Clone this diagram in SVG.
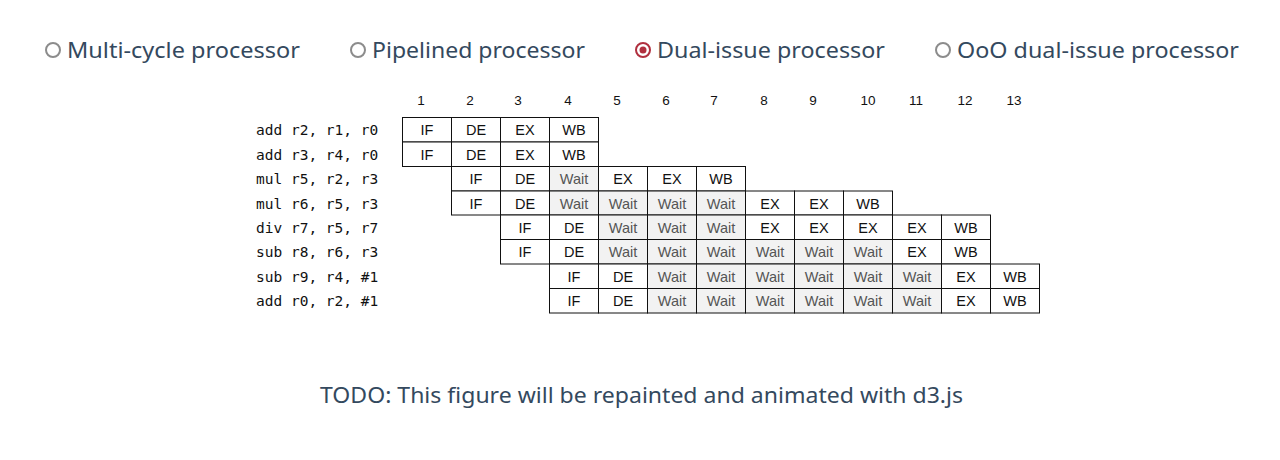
<svg xmlns="http://www.w3.org/2000/svg" width="1280" height="460" viewBox="0 0 1280 460">
<style>
.hd{font-family:"Noto Sans","Open Sans",sans-serif;font-size:22px;fill:#34495e}
.rb{fill:#fff;stroke:#8c8c8c;stroke-width:2}
.rs{fill:#fff;stroke:#b0303f;stroke-width:2}
.num{font-family:"Liberation Sans",Arial,sans-serif;font-size:13.5px;fill:#111;text-anchor:middle}
.lbl{font-family:"DejaVu Sans Mono",monospace;font-size:14.5px;fill:#111}
.c{fill:#fff;stroke:#111;stroke-width:1}
.w{fill:#f2f2f2;stroke:#111;stroke-width:1}
.t{font-family:"Liberation Sans",Arial,sans-serif;font-size:14.5px;fill:#111;text-anchor:middle}
.tw{font-family:"Liberation Sans",Arial,sans-serif;font-size:14.5px;fill:#555;text-anchor:middle}
</style>
<rect width="1280" height="460" fill="#fff"/>
<g id="radios">
<circle class="rb" cx="53" cy="50" r="7"/>
<text class="hd" x="67" y="58" textLength="233" lengthAdjust="spacingAndGlyphs">Multi-cycle processor</text>
<circle class="rb" cx="358" cy="50" r="7"/>
<text class="hd" x="372" y="58" textLength="213" lengthAdjust="spacingAndGlyphs">Pipelined processor</text>
<circle class="rs" cx="643" cy="50" r="7"/>
<circle cx="643" cy="50" r="3.5" fill="#b0303f"/>
<text class="hd" x="657" y="58" textLength="228" lengthAdjust="spacingAndGlyphs">Dual-issue processor</text>
<circle class="rb" cx="943" cy="50" r="7"/>
<text class="hd" x="957" y="58" textLength="282" lengthAdjust="spacingAndGlyphs">OoO dual-issue processor</text>
</g>
<g id="cycle-numbers">
<text class="num" x="421" y="105">1</text>
<text class="num" x="470" y="105">2</text>
<text class="num" x="518" y="105">3</text>
<text class="num" x="568" y="105">4</text>
<text class="num" x="617" y="105">5</text>
<text class="num" x="666" y="105">6</text>
<text class="num" x="714" y="105">7</text>
<text class="num" x="764" y="105">8</text>
<text class="num" x="813" y="105">9</text>
<text class="num" x="868" y="105">10</text>
<text class="num" x="916" y="105">11</text>
<text class="num" x="965" y="105">12</text>
<text class="num" x="1014" y="105">13</text>
</g>
<g id="instructions">
<text class="lbl" x="256" y="135">add r2, r1, r0</text>
<text class="lbl" x="256" y="159.5">add r3, r4, r0</text>
<text class="lbl" x="256" y="184">mul r5, r2, r3</text>
<text class="lbl" x="256" y="208.5">mul r6, r5, r3</text>
<text class="lbl" x="256" y="232.5">div r7, r5, r7</text>
<text class="lbl" x="256" y="257">sub r8, r6, r3</text>
<text class="lbl" x="256" y="281.5">sub r9, r4, #1</text>
<text class="lbl" x="256" y="306">add r0, r2, #1</text>
</g>
<g id="row1">
<rect class="c" x="402.5" y="117.5" width="49" height="24.5"/><text class="t" x="427" y="135">IF</text>
<rect class="c" x="451.5" y="117.5" width="49" height="24.5"/><text class="t" x="476" y="135">DE</text>
<rect class="c" x="500.5" y="117.5" width="49" height="24.5"/><text class="t" x="525" y="135">EX</text>
<rect class="c" x="549.5" y="117.5" width="49" height="24.5"/><text class="t" x="574" y="135">WB</text>
</g>
<g id="row2">
<rect class="c" x="402.5" y="142" width="49" height="24.5"/><text class="t" x="427" y="159.5">IF</text>
<rect class="c" x="451.5" y="142" width="49" height="24.5"/><text class="t" x="476" y="159.5">DE</text>
<rect class="c" x="500.5" y="142" width="49" height="24.5"/><text class="t" x="525" y="159.5">EX</text>
<rect class="c" x="549.5" y="142" width="49" height="24.5"/><text class="t" x="574" y="159.5">WB</text>
</g>
<g id="row3">
<rect class="c" x="451.5" y="166.5" width="49" height="24.5"/><text class="t" x="476" y="184">IF</text>
<rect class="c" x="500.5" y="166.5" width="49" height="24.5"/><text class="t" x="525" y="184">DE</text>
<rect class="w" x="549.5" y="166.5" width="49" height="24.5"/><text class="tw" x="574" y="184">Wait</text>
<rect class="c" x="598.5" y="166.5" width="49" height="24.5"/><text class="t" x="623" y="184">EX</text>
<rect class="c" x="647.5" y="166.5" width="49" height="24.5"/><text class="t" x="672" y="184">EX</text>
<rect class="c" x="696.5" y="166.5" width="49" height="24.5"/><text class="t" x="721" y="184">WB</text>
</g>
<g id="row4">
<rect class="c" x="451.5" y="191" width="49" height="24"/><text class="t" x="476" y="208.5">IF</text>
<rect class="c" x="500.5" y="191" width="49" height="24"/><text class="t" x="525" y="208.5">DE</text>
<rect class="w" x="549.5" y="191" width="49" height="24"/><text class="tw" x="574" y="208.5">Wait</text>
<rect class="w" x="598.5" y="191" width="49" height="24"/><text class="tw" x="623" y="208.5">Wait</text>
<rect class="w" x="647.5" y="191" width="49" height="24"/><text class="tw" x="672" y="208.5">Wait</text>
<rect class="w" x="696.5" y="191" width="49" height="24"/><text class="tw" x="721" y="208.5">Wait</text>
<rect class="c" x="745.5" y="191" width="49" height="24"/><text class="t" x="770" y="208.5">EX</text>
<rect class="c" x="794.5" y="191" width="49" height="24"/><text class="t" x="819" y="208.5">EX</text>
<rect class="c" x="843.5" y="191" width="49" height="24"/><text class="t" x="868" y="208.5">WB</text>
</g>
<g id="row5">
<rect class="c" x="500.5" y="215" width="49" height="24.5"/><text class="t" x="525" y="232.5">IF</text>
<rect class="c" x="549.5" y="215" width="49" height="24.5"/><text class="t" x="574" y="232.5">DE</text>
<rect class="w" x="598.5" y="215" width="49" height="24.5"/><text class="tw" x="623" y="232.5">Wait</text>
<rect class="w" x="647.5" y="215" width="49" height="24.5"/><text class="tw" x="672" y="232.5">Wait</text>
<rect class="w" x="696.5" y="215" width="49" height="24.5"/><text class="tw" x="721" y="232.5">Wait</text>
<rect class="c" x="745.5" y="215" width="49" height="24.5"/><text class="t" x="770" y="232.5">EX</text>
<rect class="c" x="794.5" y="215" width="49" height="24.5"/><text class="t" x="819" y="232.5">EX</text>
<rect class="c" x="843.5" y="215" width="49" height="24.5"/><text class="t" x="868" y="232.5">EX</text>
<rect class="c" x="892.5" y="215" width="49" height="24.5"/><text class="t" x="917" y="232.5">EX</text>
<rect class="c" x="941.5" y="215" width="49" height="24.5"/><text class="t" x="966" y="232.5">WB</text>
</g>
<g id="row6">
<rect class="c" x="500.5" y="239.5" width="49" height="24.5"/><text class="t" x="525" y="257">IF</text>
<rect class="c" x="549.5" y="239.5" width="49" height="24.5"/><text class="t" x="574" y="257">DE</text>
<rect class="w" x="598.5" y="239.5" width="49" height="24.5"/><text class="tw" x="623" y="257">Wait</text>
<rect class="w" x="647.5" y="239.5" width="49" height="24.5"/><text class="tw" x="672" y="257">Wait</text>
<rect class="w" x="696.5" y="239.5" width="49" height="24.5"/><text class="tw" x="721" y="257">Wait</text>
<rect class="w" x="745.5" y="239.5" width="49" height="24.5"/><text class="tw" x="770" y="257">Wait</text>
<rect class="w" x="794.5" y="239.5" width="49" height="24.5"/><text class="tw" x="819" y="257">Wait</text>
<rect class="w" x="843.5" y="239.5" width="49" height="24.5"/><text class="tw" x="868" y="257">Wait</text>
<rect class="c" x="892.5" y="239.5" width="49" height="24.5"/><text class="t" x="917" y="257">EX</text>
<rect class="c" x="941.5" y="239.5" width="49" height="24.5"/><text class="t" x="966" y="257">WB</text>
</g>
<g id="row7">
<rect class="c" x="549.5" y="264" width="49" height="24.5"/><text class="t" x="574" y="281.5">IF</text>
<rect class="c" x="598.5" y="264" width="49" height="24.5"/><text class="t" x="623" y="281.5">DE</text>
<rect class="w" x="647.5" y="264" width="49" height="24.5"/><text class="tw" x="672" y="281.5">Wait</text>
<rect class="w" x="696.5" y="264" width="49" height="24.5"/><text class="tw" x="721" y="281.5">Wait</text>
<rect class="w" x="745.5" y="264" width="49" height="24.5"/><text class="tw" x="770" y="281.5">Wait</text>
<rect class="w" x="794.5" y="264" width="49" height="24.5"/><text class="tw" x="819" y="281.5">Wait</text>
<rect class="w" x="843.5" y="264" width="49" height="24.5"/><text class="tw" x="868" y="281.5">Wait</text>
<rect class="w" x="892.5" y="264" width="49" height="24.5"/><text class="tw" x="917" y="281.5">Wait</text>
<rect class="c" x="941.5" y="264" width="49" height="24.5"/><text class="t" x="966" y="281.5">EX</text>
<rect class="c" x="990.5" y="264" width="49" height="24.5"/><text class="t" x="1015" y="281.5">WB</text>
</g>
<g id="row8">
<rect class="c" x="549.5" y="288.5" width="49" height="24.5"/><text class="t" x="574" y="306">IF</text>
<rect class="c" x="598.5" y="288.5" width="49" height="24.5"/><text class="t" x="623" y="306">DE</text>
<rect class="w" x="647.5" y="288.5" width="49" height="24.5"/><text class="tw" x="672" y="306">Wait</text>
<rect class="w" x="696.5" y="288.5" width="49" height="24.5"/><text class="tw" x="721" y="306">Wait</text>
<rect class="w" x="745.5" y="288.5" width="49" height="24.5"/><text class="tw" x="770" y="306">Wait</text>
<rect class="w" x="794.5" y="288.5" width="49" height="24.5"/><text class="tw" x="819" y="306">Wait</text>
<rect class="w" x="843.5" y="288.5" width="49" height="24.5"/><text class="tw" x="868" y="306">Wait</text>
<rect class="w" x="892.5" y="288.5" width="49" height="24.5"/><text class="tw" x="917" y="306">Wait</text>
<rect class="c" x="941.5" y="288.5" width="49" height="24.5"/><text class="t" x="966" y="306">EX</text>
<rect class="c" x="990.5" y="288.5" width="49" height="24.5"/><text class="t" x="1015" y="306">WB</text>
</g>
<g id="caption">
<text class="hd" x="320" y="403" textLength="643" lengthAdjust="spacingAndGlyphs">TODO: This figure will be repainted and animated with d3.js</text>
</g>
</svg>
